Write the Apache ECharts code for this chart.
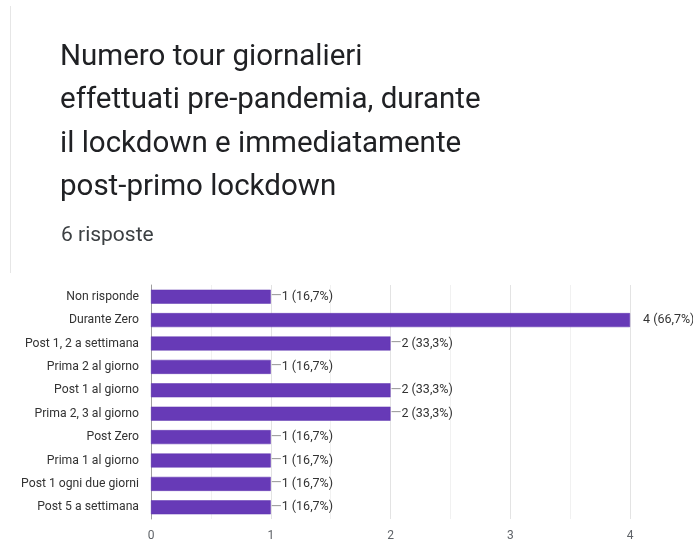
<!DOCTYPE html>
<html>
<head>
<meta charset="utf-8">
<script src="https://cdn.jsdelivr.net/npm/echarts@6/dist/echarts.min.js"></script>
<style>
html,body{margin:0;padding:0;background:#fff;}
#chart{width:693px;height:542px;}
</style>
</head>
<body>
<div id="chart"></div>
<script>
const titleText = "Numero tour giornalieri\neffettuati pre-pandemia, durante\nil lockdown e immediatamente\npost-primo lockdown";
const subtitleText = "6 risposte";
const totalResponses = 6;
const categories = [
  "Non risponde",
  "Durante Zero",
  "Post 1, 2 a settimana",
  "Prima 2 al giorno",
  "Post 1 al giorno",
  "Prima 2, 3 al giorno",
  "Post Zero",
  "Prima 1 al giorno",
  "Post 1 ogni due giorni",
  "Post 5 a settimana"
];
const values = [1, 4, 2, 1, 2, 2, 1, 1, 1, 1];
const xTicks = [0, 1, 2, 3, 4];

function pct(v){ return (v / totalResponses * 100).toFixed(1).replace('.', ','); }
const maxVal = Math.max.apply(null, values);

const chart = echarts.init(document.getElementById('chart'));
chart.setOption({
  backgroundColor: '#fff',
  animation: false,
  title: [
    {
      text: titleText,
      left: 55, top: 31,
      textStyle: { fontFamily: 'Roboto', fontSize: 29.5, fontWeight: 'normal', color: '#202124', lineHeight: 43.3 }
    },
    {
      text: subtitleText,
      left: 56, top: 220,
      textStyle: { fontFamily: 'Roboto', fontSize: 21, fontWeight: 'normal', color: '#3c4043' }
    }
  ],
  graphic: [
    { type: 'rect', shape: { x: 10, y: 6, width: 1, height: 267 }, style: { fill: '#e6e6e6' } }
  ],
  grid: { left: 151, right: 63, top: 285, bottom: 21, containLabel: false },
  xAxis: {
    type: 'value', min: xTicks[0], max: xTicks[xTicks.length - 1], interval: 1,
    axisLine: { show: false }, axisTick: { show: false },
    axisLabel: { color: '#5f6368', fontFamily: 'Roboto', fontSize: 12, margin: 11 },
    splitLine: { show: true, lineStyle: { color: '#e3e3e3', width: 1 } },
    minorTick: { show: false, splitNumber: 2 },
    minorSplitLine: { show: true, lineStyle: { color: '#f1f1f1', width: 1 } }
  },
  yAxis: {
    type: 'category', data: categories, inverse: true,
    axisLine: { show: true, lineStyle: { color: '#9e9e9e', width: 1 } },
    axisTick: { show: false },
    axisLabel: { color: '#333', fontFamily: 'Roboto', fontSize: 12.2, margin: 12 }
  },
  series: [{
    type: 'bar',
    data: values,
    barWidth: '60%',
    itemStyle: { color: '#673ab7', borderColor: '#5e35b1', borderWidth: 0.5 },
    label: {
      show: true, position: 'right', distance: 0,
      fontFamily: 'Roboto', fontSize: 12.5, color: '#333',
      formatter: function(p){
        const t = p.value + ' (' + pct(p.value) + '%)';
        return (p.value === maxVal ? '{gap|}' : '{d|—}') + '{t|' + t + '}';
      },
      rich: {
        d: { color: '#9e9e9e', fontSize: 14, fontFamily: 'Roboto' },
        gap: { width: 13 },
        t: { color: '#333', fontSize: 12.5, fontFamily: 'Roboto' }
      }
    }
  }]
});
</script>
</body>
</html>
